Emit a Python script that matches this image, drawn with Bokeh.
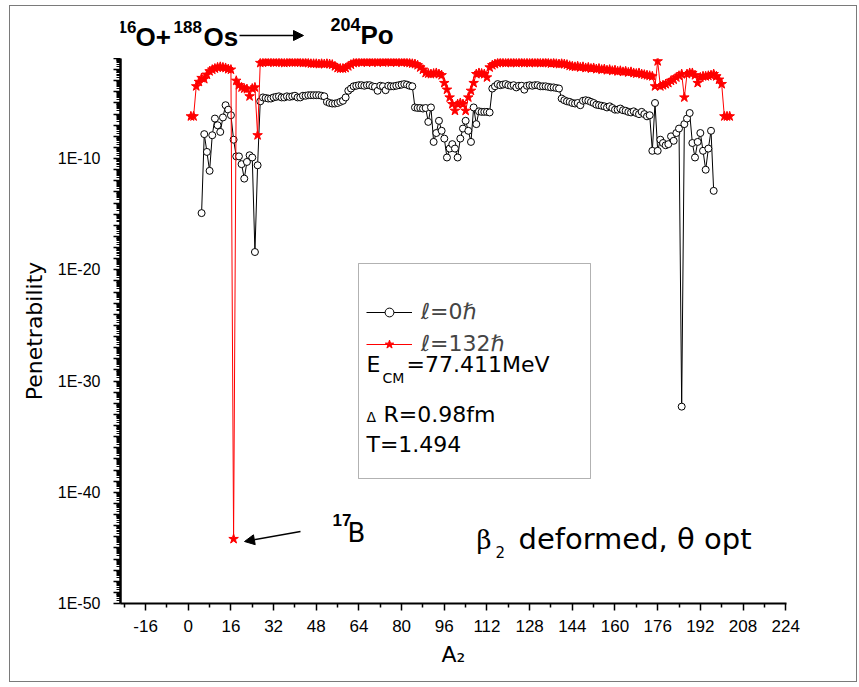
import math
from bokeh.plotting import figure
from bokeh.layouts import column
from bokeh.models import (Range1d, FixedTicker, CustomJSTickFormatter, Label, Arrow,
                          NormalHead, BoxAnnotation, Legend, LegendItem, ColumnDataSource)
from bokeh.embed import file_html
from bokeh.resources import INLINE

# ---------------- data (log10 of penetrability) ----------------
a2_start_l0 = 5
log_pen_l0 = [
    -14.9, -7.8, -9.4, -11.1, -7.9, -6.4, -7.0, -7.6, -6.3, -5.2, -5.6, -6.1, -8.3, -9.8,
    -9.8, -10.5, -11.8, -10.3, -9.7, -9.9, -18.4, -10.6, -4.85,
    -4.5, -4.55, -4.6, -4.6, -4.5, -4.45, -4.4, -4.5, -4.5, -4.4, -4.45, -4.4, -4.35, -4.5,
    -4.5, -4.35, -4.35, -4.3, -4.3, -4.3,
    -4.3, -4.3, -4.35, -4.4,
    -4.9, -5.0, -5.05, -5.05, -5.0, -4.9, -4.8,
    -4.5, -3.9, -3.7,
    -3.5, -3.45, -3.4, -3.4, -3.45, -3.4, -3.4, -3.5, -3.55, -3.9, -3.45, -3.5, -3.85, -3.45,
    -3.5, -3.5, -3.45, -3.4, -3.35, -3.3, -3.35, -3.45, -3.5,
    -5.4, -5.45, -5.45, -5.5, -5.45, -6.7, -5.4, -8.5, -7.7, -6.6, -7.5, -8.2, -9.9, -9.1,
    -8.7, -9.1, -9.9, -8.2, -7.3, -6.6, -7.5, -8.5, -5.4, -6.9, -5.75, -5.8, -5.8, -5.8, -5.85,
    -3.7, -3.5, -3.3, -3.4, -3.35, -3.3, -3.4, -3.45, -3.4, -3.6, -3.45, -3.45, -3.8, -3.45,
    -3.4, -3.45, -3.4, -3.4, -3.5, -3.5, -3.5, -3.55, -3.6, -3.6, -3.65, -3.7,
    -4.6, -4.75, -4.85, -4.9, -5.0, -5.05, -5.0, -5.2, -4.8, -4.75, -4.8, -4.9, -5.0, -5.15,
    -5.2, -5.25, -5.3, -5.4, -5.3, -5.45, -5.6, -5.6, -5.5, -5.65, -5.7, -5.8, -5.85, -5.75,
    -5.9, -6.0, -5.8, -6.0, -6.2,
    -6.1, -9.3, -5.0, -9.3, -8.3, -8.6, -8.8, -8.7, -8.0, -8.4, -7.7, -7.3, -32.3, -6.9,
    -6.4, -5.9, -8.6, -9.9, -8.5, -7.7, -9.3, -11.0, -9.1, -7.5, -12.9,
]

a2_start_l132 = 1
log_pen_l132 = [
    -6.2, -6.2, -3.5, -3.1, -2.75, -2.85, -2.45, -2.15, -2.0, -1.9, -1.8, -1.75, -1.8, -1.85,
    -1.95, -2.0, -44.2, -3.0, -3.4, -3.6, -3.7, -3.75, -4.4, -3.7, -3.6, -7.9, -1.4,
    -1.35, -1.3, -1.35, -1.3, -1.35, -1.35, -1.3, -1.35, -1.4, -1.35, -1.3, -1.35, -1.35,
    -1.3, -1.35, -1.4, -1.35, -1.4, -1.45,
    -1.45, -1.45, -1.5, -1.45, -1.5, -1.45, -1.5, -1.55,
    -1.7, -1.85, -1.9, -1.9, -1.85, -1.7, -1.55,
    -1.4, -1.35, -1.3, -1.35, -1.3, -1.35, -1.3, -1.35, -1.3, -1.35, -1.3, -1.35, -1.3,
    -1.3, -1.35, -1.3, -1.35, -1.3, -1.35, -1.3, -1.35, -1.4, -1.45, -1.5, -1.6, -1.8, -2.0,
    -2.3, -2.35, -2.4, -2.35, -2.3, -2.4, -2.5,
    -3.2, -3.8, -4.5, -5.1, -5.7, -5.1, -5.0, -5.1, -5.7, -4.5, -3.9, -3.2, -2.4, -2.3,
    -2.35, -2.4, -2.7, -1.8, -1.6, -1.5,
    -1.4, -1.35, -1.35, -1.4, -1.35, -1.4, -1.35, -1.4, -1.35, -1.35, -1.4, -1.35, -1.4,
    -1.35, -1.4, -1.35, -1.4, -1.4, -1.35, -1.4, -1.45, -1.4, -1.45, -1.5, -1.45, -1.5, -1.55,
    -1.65, -1.7, -1.75, -1.7, -1.8, -1.75, -1.85, -1.8, -1.9, -1.85, -1.95, -1.9, -2.0,
    -1.95, -2.05, -2.0, -2.1, -2.05, -2.15, -2.1, -2.2, -2.15, -2.25, -2.2, -2.3, -2.35,
    -2.3, -2.4, -2.45, -2.5, -2.55, -2.6,
    -3.5, -1.25, -3.5, -3.4, -3.3, -3.2, -3.0, -2.9, -2.7, -2.55, -2.4, -4.5, -2.4, -2.3,
    -2.3, -2.5, -3.2, -2.7, -2.6, -2.6, -2.55, -2.5, -2.4, -2.6, -2.9, -3.3, -6.2, -6.2, -6.2,
]

x_major_ticks = [-16, 0, 16, 32, 48, 64, 80, 96, 112, 128, 144, 160, 176, 192, 208, 224]
x_minor_ticks = [-24, -8, 8, 24, 40, 56, 72, 88, 104, 120, 136, 152, 168, 184, 200, 216]
y_decades = list(range(-50, 0))

a2_l0 = list(range(a2_start_l0, a2_start_l0 + len(log_pen_l0)))
a2_l132 = list(range(a2_start_l132, a2_start_l132 + len(log_pen_l132)))
pen_l0 = [10.0 ** v for v in log_pen_l0]
pen_l132 = [10.0 ** v for v in log_pen_l132]

# ---------------- page geometry ----------------
OX, OY = 10, 6
CW = 846
TITLE_H = 52
MAIN_H = 623
X0, X1 = -25.4, 224.3
LOG_TOP, LOG_BOT = -1, -50
FL, FR, FT, FB = 120, 786, 58, 603
SANS = "Liberation Sans"
WIDE = "DejaVu Sans"

# ---------------- title strip ----------------
t = figure(width=CW, height=TITLE_H, x_range=Range1d(0, CW), y_range=Range1d(0, TITLE_H),
           output_backend="svg", toolbar_location=None,
           x_axis_location=None, y_axis_location=None,
           min_border=0, min_border_left=0, min_border_right=0,
           min_border_top=0, min_border_bottom=0)
t.outline_line_color = None
t.grid.visible = False


def tlab(text, px, py, size, bold=True):
    t.add_layout(Label(x=px - OX, y=py - OY - 0.36 * size, x_units="canvas", y_units="canvas",
                       text=text, text_font=SANS, text_font_size=f"{size}px",
                       text_font_style="bold" if bold else "normal",
                       text_baseline="alphabetic", text_align="left", text_color="black"))


tlab("16", 117, 33, 17)
tlab("O+", 135, 46, 26)
tlab("188", 173, 33, 17)
tlab("Os", 203, 46, 26)
tlab("204", 330, 30, 18)
tlab("Po", 360, 44, 26)
t.add_layout(Arrow(end=NormalHead(size=10, fill_color="black", line_color="black"),
                   x_start=239 - OX, y_start=35 - OY, x_end=303 - OX, y_end=35 - OY,
                   start_units="canvas", end_units="canvas",
                   line_color="black", line_width=1.5))

# ---------------- main figure ----------------
MY = FT
p = figure(width=CW, height=MAIN_H, x_range=Range1d(X0, X1),
           y_range=Range1d(10.0 ** LOG_BOT, 10.0 ** LOG_TOP), y_axis_type="log",
           output_backend="svg", toolbar_location=None,
           min_border_left=FL - OX, min_border_right=OX + CW - FR,
           min_border_top=0, min_border_bottom=MY + MAIN_H - FB)
p.outline_line_color = None
p.grid.visible = False
p.background_fill_color = "white"
p.border_fill_color = "white"

src0 = ColumnDataSource(dict(x=a2_l0, y=pen_l0))
src1 = ColumnDataSource(dict(x=a2_l132, y=pen_l132))

l0_line = p.line("x", "y", source=src0, line_color="black", line_width=1)
l0_pts = p.scatter("x", "y", source=src0, marker="circle", size=7,
                   fill_color="white", line_color="black", line_width=1)
l1_line = p.line("x", "y", source=src1, line_color="red", line_width=1)
l1_pts = p.scatter("x", "y", source=src1, marker="star", size=10,
                   fill_color="red", line_color="red", line_width=1)

xa = p.xaxis[0]
xa.ticker = FixedTicker(ticks=x_major_ticks, minor_ticks=x_minor_ticks)
xa.formatter = CustomJSTickFormatter(code="return String(Math.round(tick));")
xa.axis_line_width = 2
xa.major_tick_out = 7
xa.major_tick_in = 0
xa.minor_tick_out = 4
xa.minor_tick_in = 0
xa.major_tick_line_width = 1.5
xa.minor_tick_line_width = 1.5
xa.major_label_text_font = SANS
xa.major_label_text_font_size = "17px"
xa.major_label_text_color = "black"
xa.major_label_standoff = 9
xa.axis_label = "A₂"
xa.axis_label_text_font = WIDE
xa.axis_label_text_font_style = "normal"
xa.axis_label_text_font_size = "22px"
xa.axis_label_text_color = "black"
xa.axis_label_standoff = 7

ya = p.yaxis[0]
ya.ticker = FixedTicker(ticks=[10.0 ** k for k in y_decades],
                        minor_ticks=[m * 10.0 ** k for k in y_decades[:-1] for m in range(2, 10)])
ya.formatter = CustomJSTickFormatter(
    code="const e = Math.round(Math.log10(tick)); return (e % 10 === 0) ? '1E' + e : '';")
ya.axis_line_width = 2.5
ya.major_tick_out = 7
ya.major_tick_in = 0
ya.minor_tick_out = 4
ya.minor_tick_in = 0
ya.major_tick_line_width = 1.5
ya.minor_tick_line_width = 1
ya.major_label_text_font = SANS
ya.major_label_text_font_size = "16px"
ya.major_label_text_color = "black"
ya.major_label_standoff = 13
ya.axis_label = "Penetrability"
ya.axis_label_text_font = WIDE
ya.axis_label_text_font_style = "normal"
ya.axis_label_text_font_size = "22px"
ya.axis_label_text_color = "black"
ya.axis_label_standoff = 8

p.add_layout(BoxAnnotation(left=358 - OX, right=590 - OX, top=263 - MY, bottom=478 - MY,
                           left_units="canvas", right_units="canvas",
                           top_units="canvas", bottom_units="canvas",
                           fill_alpha=0, line_color="black", line_width=1))

legend = Legend(items=[LegendItem(label="ℓ=0ℏ", renderers=[l0_line, l0_pts]),
                       LegendItem(label="ℓ=132ℏ", renderers=[l1_line, l1_pts])],
                location=(366 - FL, FB - 356), glyph_width=46, glyph_height=22,
                label_height=22, label_standoff=9, spacing=7, padding=0, margin=0,
                border_line_alpha=0, background_fill_alpha=0,
                label_text_font=WIDE, label_text_font_size="22px")
p.add_layout(legend)


def lab(text, px, py, size, bold=False, font=WIDE):
    p.add_layout(Label(x=px - OX, y=py - MY - 0.36 * size, x_units="canvas", y_units="canvas",
                       text=text, text_font=font, text_font_size=f"{size}px",
                       text_font_style="bold" if bold else "normal",
                       text_baseline="alphabetic", text_align="left", text_color="black"))


lab("E", 366, 372, 22)
lab("CM", 382, 383, 14)
lab("=77.411MeV", 406, 372, 22)
lab("Δ", 366, 422, 14)
lab("R=0.98fm", 383, 422, 22)
lab("T=1.494", 366, 452, 22)

lab("17", 332, 526, 17, True, SANS)
lab("B", 347, 542, 26)
p.add_layout(Arrow(end=NormalHead(size=10, fill_color="black", line_color="black"),
                   x_start=300 - OX, y_start=531 - MY, x_end=244 - OX, y_end=541 - MY,
                   start_units="canvas", end_units="canvas",
                   line_color="black", line_width=1.5))

lab("β", 476, 549, 26, font="DejaVu Serif")
lab("2", 495, 557, 15)
lab("deformed, θ opt", 518, 549, 29)

layout = column(t, p, spacing=0, margin=(5, 0, 0, 9),
                styles={"border": "1px solid #7a7a7a"})

open("out.html", "w").write(file_html(layout, INLINE))
